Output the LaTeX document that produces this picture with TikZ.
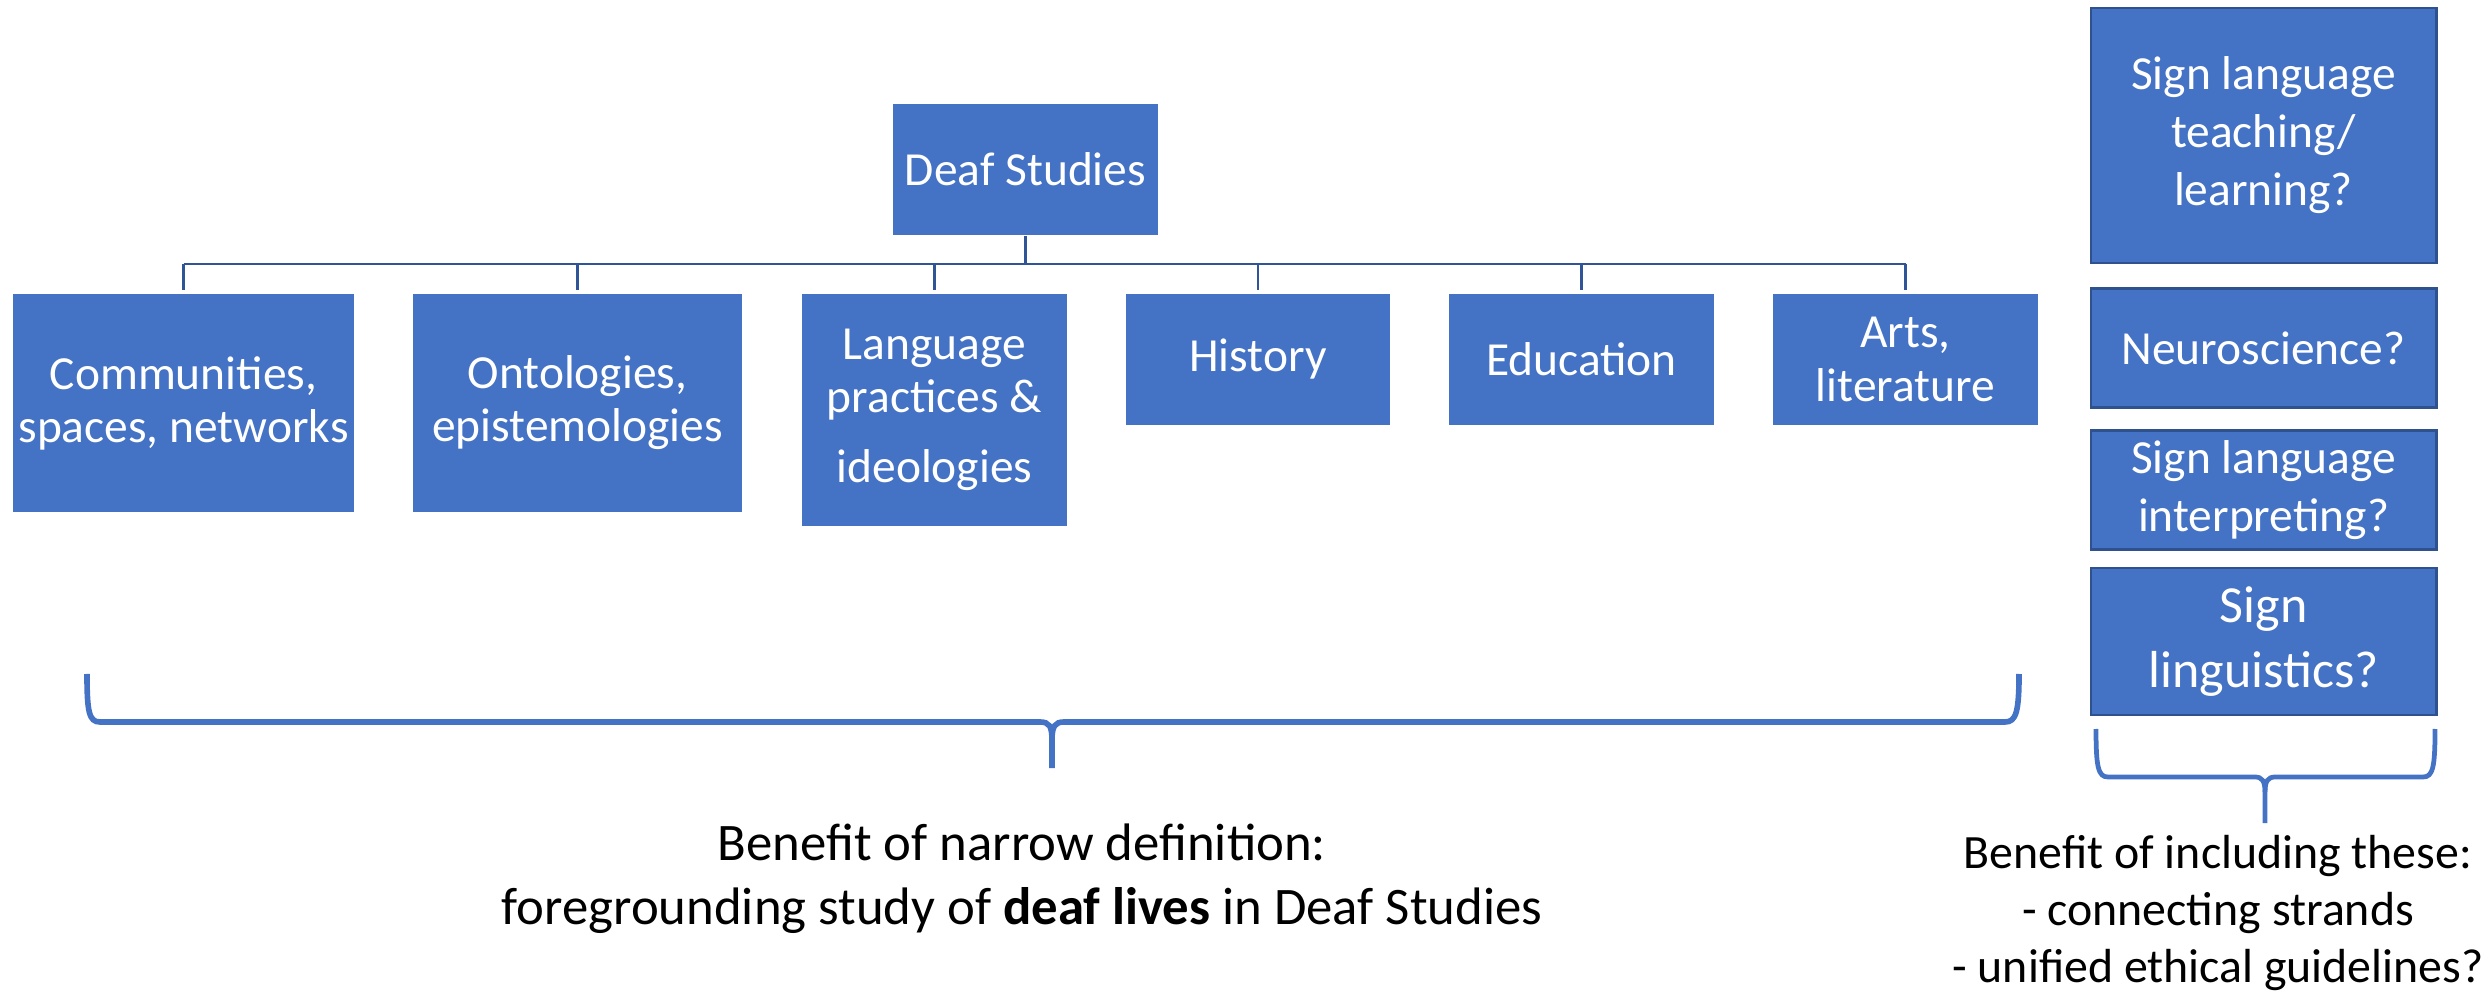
\documentclass[tikz,border=0pt]{standalone}
\usepackage{fontspec}
\setmainfont{Carlito}
\usepackage{xcolor}
\definecolor{boxblue}{HTML}{4472C4}
\definecolor{edgeblue}{HTML}{2F528F}
\definecolor{linkblue}{HTML}{2F5597}
\usetikzlibrary{positioning}

\begin{document}
\begin{tikzpicture}[x=0.01cm, y=-0.01cm]
    \tikzstyle{area}=[ %
      rectangle, fill=boxblue, text=white,
      inner sep=0, align=center,
%      draw=white,
      font=\fontsize{13.5}{15.1}\selectfont
    ]
    \tikzstyle{extra}=[area, draw=edgeblue, line width=0.8pt,
      minimum width=3.45cm,
      font=\fontsize{13.5}{16.5}\selectfont]
    \tikzstyle{link}=[draw=linkblue, line width=0.8pt]
    \tikzstyle{brace}=[draw=boxblue, line width=1.6pt]
    \tikzstyle{remark}=[anchor=base, align=center, inner sep=0]
  %  \draw[help lines] (0,0) grid[step=100] (2489,995);
    \useasboundingbox (0,0) rectangle (2489,995);

    % the tree
    \path (1025.5,169.5) node(ds) [area, minimum width=2.65cm, minimum height=1.31cm]
                {Deaf Studies};
    \path (183.5,403) node(comm) [area, minimum width=3.41cm, minimum height=2.18cm]
                {Communities,\\ spaces, networks}
          (577.5,403) node(onto) [area, minimum width=3.29cm, minimum height=2.18cm]
                {Ontologies,\\ epistemologies}
          (934.5,410) node(lang) [area, minimum width=2.65cm, minimum height=2.32cm]
                {Language\\ practices \&\\[4.8pt] ideologies}
          (1258,359.5) node(hist) [area, minimum width=2.64cm, minimum height=1.31cm]
                {History}
          (1581.5,359.5) node(edu) [area, minimum width=2.65cm, minimum height=1.31cm]
                {Education}
          (1905.5,359.5) node(arts) [area, minimum width=2.65cm, minimum height=1.31cm]
                {Arts,\\ literature};

    \coordinate (bus) at (1025.5,264);
    \draw[link] (ds.south) -- (ds.south |- bus);
    \draw[link] (comm.north |- bus) -- (arts.north |- bus);
    \foreach \n in {comm,onto,lang,hist,edu,arts}
      \draw[link, shorten >=0.8pt] (\n.north |- bus) -- (\n.north);

    % fields on the side
    \path (2263.5,135.5) node(teach) [extra, minimum height=2.55cm]
                {Sign language\\ teaching/\\ learning?}
          (2263.5,348) node(neuro) [extra, minimum height=1.19cm]
                {Neuroscience?}
          (2263.5,490) node(interp) [extra, minimum height=1.19cm]
                {Sign language\\ interpreting?}
          (2263.5,641.5) node(ling) [extra, minimum height=1.47cm,
                font=\fontsize{14.8}{18.5}\selectfont]
                {Sign\\ linguistics?};

    % braces
    \draw[brace] (87,674) .. controls (87,712) and (89,722) .. (100,722)
          -- (1040,722) .. controls (1049,722) and (1052,726) .. (1052,740) -- (1052,768);
    \draw[brace] (1052,740) .. controls (1052,726) and (1055,722) .. (1064,722)
          -- (2005,722) .. controls (2016,722) and (2019,712) .. (2019,674);
    \draw[brace, line width=1.35pt] (2096,729) .. controls (2096,767) and (2098,777) .. (2108,777)
          -- (2255,777) .. controls (2262,777) and (2265,781) .. (2265,792) -- (2265,823);
    \draw[brace, line width=1.35pt] (2265,792) .. controls (2265,781) and (2268,777) .. (2275,777)
          -- (2423,777) .. controls (2433,777) and (2435,767) .. (2435,729);

    % what each side brings
    \path (1022,924) node(narrow) [remark, font=\fontsize{15}{18.2}\selectfont]
                {Benefit of narrow definition:\\
                 foregrounding study of \textbf{deaf lives} in Deaf Studies};
    \path (2218,982) node(wide) [remark, font=\fontsize{13.6}{16.2}\selectfont]
                {Benefit of including these:\\ - connecting strands\\ - unified ethical guidelines?};
  \end{tikzpicture}
\end{document}
